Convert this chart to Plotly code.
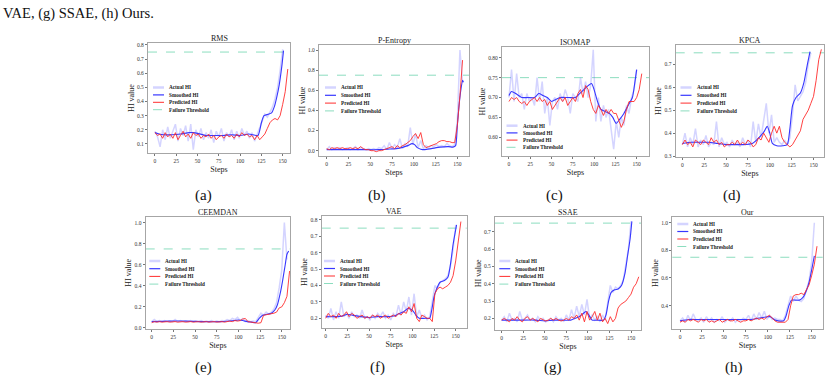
import plotly.graph_objects as go

W, H = 833, 381
STEPS = list(range(0, 160, 3))
XTICKS = [0, 25, 50, 75, 100, 125, 150]
THRESHOLD = 0.75
LEGEND_LABELS = ["Actual HI", "Smoothed HI", "Predicted HI", "Failure Threshold"]
CAPTIONS = ["(a)", "(b)", "(c)", "(d)", "(e)", "(f)", "(g)", "(h)"]
TOP_TEXT = "VAE, (g) SSAE, (h) Ours."

# ---------------- (a) RMS ----------------
rms_actual = [0.19, 0.15, 0.08, 0.20, 0.13, 0.22, 0.14, 0.19, 0.24, 0.12,
              0.21, 0.16, 0.23, 0.12, 0.24, 0.06, 0.20, 0.15, 0.21, 0.13,
              0.18, 0.14, 0.20, 0.11, 0.19, 0.15, 0.21, 0.12, 0.18, 0.15,
              0.20, 0.13, 0.19, 0.14, 0.21, 0.16, 0.19, 0.14, 0.18, 0.12,
              0.17, 0.22, 0.27, 0.31, 0.29, 0.33, 0.36, 0.42, 0.50, 0.62, 0.77]
rms_smooth_x = [0, 5, 10, 20, 30, 40, 45, 50, 60, 70, 80, 90, 100, 110, 115, 121, 125, 128, 133, 137, 140, 143, 146, 149, 151]
rms_smooth = [0.18, 0.17, 0.165, 0.165, 0.17, 0.18, 0.18, 0.175, 0.16, 0.16, 0.16, 0.165, 0.16, 0.17, 0.165, 0.16, 0.25, 0.30, 0.31, 0.32, 0.36, 0.43, 0.52, 0.65, 0.76]
rms_pred = [0.18, 0.16, 0.17, 0.14, 0.18, 0.15, 0.17, 0.14, 0.18, 0.13,
            0.16, 0.19, 0.15, 0.17, 0.14, 0.18, 0.16, 0.17, 0.14, 0.16,
            0.15, 0.17, 0.14, 0.16, 0.13, 0.15, 0.16, 0.14, 0.17, 0.15,
            0.16, 0.14, 0.17, 0.15, 0.18, 0.16, 0.17, 0.15, 0.16, 0.13,
            0.16, 0.13, 0.15, 0.17, 0.21, 0.25, 0.27, 0.28, 0.27, 0.30,
            0.38, 0.47, 0.63]
rms_yticks = [0.1, 0.2, 0.3, 0.4, 0.5, 0.6, 0.7, 0.8]

# ---------------- (b) P-Entropy ----------------
pent_actual = [0.01, 0.04, 0.01, 0.03, 0.02, 0.03, 0.01, 0.02, 0.03, 0.01,
               0.02, 0.04, 0.01, 0.03, 0.02, 0.01, 0.02, 0.01, 0.02, 0.01,
               0.03, 0.02, 0.05, 0.01, 0.08, 0.02, 0.06, 0.03, 0.12, 0.02,
               0.07, 0.04, 0.23, 0.06, 0.17, 0.03, 0.10, 0.02, 0.05, 0.03,
               0.05, 0.04, 0.06, 0.04, 0.05, 0.04, 0.07, 0.05, 0.04, 0.06,
               0.30, 1.00, 0.68]
pent_smooth_x = [0, 20, 40, 60, 70, 80, 88, 93, 98, 101, 104, 108, 112, 120, 130, 140, 145, 148, 150, 152, 154, 156, 157]
pent_smooth = [0.01, 0.01, 0.01, 0.01, 0.015, 0.02, 0.035, 0.05, 0.07, 0.06, 0.03, 0.015, 0.01, 0.02, 0.035, 0.04, 0.035, 0.05, 0.25, 0.45, 0.60, 0.70, 0.68]
pent_pred = [0.02, 0.01, 0.03, 0.02, 0.03, 0.02, 0.03, 0.02, 0.02, 0.03,
             0.02, 0.03, 0.02, 0.04, 0.02, 0.01, 0.01, 0.00, 0.00, -0.01,
             0.00, 0.00, 0.01, 0.02, 0.03, 0.04, 0.02, 0.05, 0.03, 0.05,
             0.06, 0.08, 0.10, 0.14, 0.17, 0.12, 0.18, 0.06, 0.03, 0.04,
             0.05, 0.06, 0.07, 0.09, 0.10, 0.10, 0.09, 0.09, 0.08, 0.08,
             0.25, 0.55, 0.90]
pent_yticks = [0.0, 0.2, 0.4, 0.6, 0.8, 1.0]

# ---------------- (c) ISOMAP ----------------
iso_actual = [0.70, 0.77, 0.69, 0.76, 0.70, 0.71, 0.67, 0.71, 0.69, 0.70,
              0.68, 0.75, 0.69, 0.74, 0.66, 0.70, 0.63, 0.69, 0.70, 0.67,
              0.71, 0.69, 0.72, 0.70, 0.66, 0.71, 0.70, 0.69, 0.75, 0.71,
              0.74, 0.70, 0.73, 0.82, 0.64, 0.70, 0.64, 0.68, 0.65, 0.67,
              0.62, 0.57, 0.64, 0.60, 0.65, 0.63, 0.68, 0.66, 0.70, 0.72, 0.77]
iso_smooth_x = [0, 3, 8, 15, 22, 30, 35, 40, 45, 50, 55, 60, 70, 78, 83, 88, 93, 97, 100, 104, 108, 113, 118, 122, 126, 130, 135, 140, 145, 148, 150]
iso_smooth = [0.705, 0.715, 0.71, 0.70, 0.70, 0.70, 0.71, 0.705, 0.70, 0.69, 0.695, 0.70, 0.70, 0.70, 0.71, 0.72, 0.73, 0.735, 0.72, 0.69, 0.67, 0.665, 0.66, 0.65, 0.635, 0.645, 0.66, 0.68, 0.70, 0.74, 0.77]
iso_pred = [0.69, 0.70, 0.695, 0.70, 0.69, 0.685, 0.69, 0.68, 0.69, 0.695,
            0.70, 0.69, 0.70, 0.69, 0.695, 0.68, 0.69, 0.67, 0.68, 0.69,
            0.70, 0.69, 0.70, 0.68, 0.69, 0.70, 0.69, 0.71, 0.72, 0.70,
            0.73, 0.72, 0.69, 0.67, 0.66, 0.68, 0.67, 0.655, 0.67, 0.66,
            0.67, 0.66, 0.66, 0.64, 0.625, 0.64, 0.67, 0.69, 0.69, 0.69,
            0.70, 0.72, 0.76]
iso_yticks = [0.60, 0.65, 0.70, 0.75, 0.80]

# ---------------- (d) KPCA ----------------
kpca_actual = [0.35, 0.40, 0.34, 0.38, 0.35, 0.42, 0.34, 0.37, 0.35, 0.39,
               0.34, 0.36, 0.35, 0.45, 0.34, 0.38, 0.35, 0.36, 0.34, 0.37,
               0.35, 0.36, 0.34, 0.38, 0.35, 0.37, 0.34, 0.45, 0.36, 0.44,
               0.38, 0.45, 0.53, 0.40, 0.48, 0.36, 0.38, 0.36, 0.35, 0.37,
               0.35, 0.38, 0.48, 0.61, 0.54, 0.56, 0.58, 0.62, 0.70, 0.75]
kpca_smooth_x = [0, 10, 20, 30, 40, 50, 60, 70, 80, 85, 90, 94, 97, 100, 103, 108, 115, 120, 123, 126, 130, 135, 139, 143, 146]
kpca_smooth = [0.355, 0.36, 0.36, 0.36, 0.355, 0.35, 0.35, 0.35, 0.355, 0.37, 0.39, 0.41, 0.43, 0.40, 0.355, 0.345, 0.345, 0.35, 0.42, 0.52, 0.555, 0.575, 0.62, 0.70, 0.755]
kpca_pred = [0.35, 0.37, 0.35, 0.36, 0.34, 0.37, 0.36, 0.35, 0.37, 0.36,
             0.35, 0.38, 0.36, 0.37, 0.35, 0.36, 0.34, 0.35, 0.35, 0.36,
             0.35, 0.37, 0.35, 0.36, 0.35, 0.37, 0.36, 0.34, 0.35, 0.38,
             0.37, 0.40, 0.38, 0.36, 0.40, 0.43, 0.40, 0.43, 0.38, 0.36,
             0.35, 0.34, 0.35, 0.37, 0.39, 0.41, 0.46, 0.48, 0.50, 0.53,
             0.56, 0.63, 0.72, 0.765]
kpca_yticks = [0.3, 0.4, 0.5, 0.6, 0.7]

# ---------------- (e) CEEMDAN ----------------
ceem_actual = [0.06, 0.08, 0.06, 0.07, 0.06, 0.07, 0.06, 0.065, 0.06, 0.08,
               0.06, 0.07, 0.06, 0.065, 0.06, 0.07, 0.06, 0.065, 0.06, 0.07,
               0.06, 0.065, 0.06, 0.07, 0.06, 0.065, 0.06, 0.07, 0.065, 0.08,
               0.07, 0.09, 0.08, 0.10, 0.07, 0.09, 0.06, 0.07, 0.06, 0.065,
               0.06, 0.10, 0.14, 0.12, 0.15, 0.13, 0.15, 0.18, 0.24, 0.38,
               0.55, 1.00, 0.65]
ceem_smooth_x = [0, 20, 40, 60, 80, 95, 100, 105, 110, 115, 120, 124, 128, 133, 138, 142, 145, 148, 151, 154, 156, 158]
ceem_smooth = [0.06, 0.065, 0.065, 0.06, 0.06, 0.07, 0.075, 0.07, 0.06, 0.055, 0.05, 0.09, 0.12, 0.13, 0.14, 0.17, 0.22, 0.32, 0.45, 0.60, 0.70, 0.73]
ceem_pred = [0.05, 0.06, 0.055, 0.06, 0.055, 0.06, 0.06, 0.055, 0.06, 0.06,
             0.055, 0.06, 0.06, 0.055, 0.06, 0.06, 0.055, 0.06, 0.06, 0.055,
             0.06, 0.06, 0.055, 0.06, 0.06, 0.055, 0.06, 0.06, 0.055, 0.06,
             0.065, 0.06, 0.07, 0.065, 0.07, 0.085, 0.09, 0.06, 0.055, 0.05,
             0.05, 0.045, 0.05, 0.12, 0.125, 0.13, 0.13, 0.14, 0.15, 0.19,
             0.20, 0.24, 0.30, 0.54]
ceem_yticks = [0.0, 0.2, 0.4, 0.6, 0.8, 1.0]

# ---------------- (f) VAE ----------------
vae_actual = [0.22, 0.20, 0.26, 0.19, 0.24, 0.20, 0.30, 0.21, 0.23, 0.20,
              0.24, 0.21, 0.22, 0.20, 0.25, 0.20, 0.21, 0.19, 0.22, 0.20,
              0.23, 0.21, 0.24, 0.20, 0.22, 0.19, 0.23, 0.21, 0.28, 0.22,
              0.30, 0.24, 0.33, 0.22, 0.35, 0.21, 0.25, 0.20, 0.22, 0.19,
              0.21, 0.30, 0.40, 0.38, 0.42, 0.43, 0.44, 0.46, 0.52, 0.62, 0.77]
vae_smooth_x = [0, 10, 20, 25, 30, 40, 50, 60, 70, 80, 85, 90, 95, 100, 104, 108, 115, 120, 122, 125, 128, 132, 137, 141, 144, 147, 151]
vae_smooth = [0.21, 0.21, 0.215, 0.225, 0.22, 0.21, 0.205, 0.21, 0.21, 0.215, 0.23, 0.24, 0.26, 0.25, 0.22, 0.20, 0.20, 0.20, 0.24, 0.33, 0.38, 0.42, 0.43, 0.45, 0.53, 0.65, 0.77]
vae_pred = [0.20, 0.23, 0.21, 0.22, 0.20, 0.23, 0.21, 0.22, 0.24, 0.21,
            0.23, 0.22, 0.20, 0.21, 0.22, 0.20, 0.21, 0.20, 0.22, 0.21,
            0.22, 0.20, 0.21, 0.22, 0.20, 0.21, 0.22, 0.21, 0.23, 0.22,
            0.24, 0.23, 0.27, 0.24, 0.29, 0.20, 0.18, 0.22, 0.21, 0.20,
            0.20, 0.18, 0.35, 0.38, 0.39, 0.38, 0.39, 0.40, 0.42, 0.46,
            0.55, 0.66, 0.79]
vae_yticks = [0.2, 0.3, 0.4, 0.5, 0.6, 0.7, 0.8]

# ---------------- (g) SSAE ----------------
ssae_actual = [0.19, 0.21, 0.18, 0.23, 0.19, 0.20, 0.18, 0.24, 0.19, 0.20,
               0.22, 0.19, 0.20, 0.18, 0.21, 0.19, 0.20, 0.18, 0.19, 0.20,
               0.18, 0.21, 0.19, 0.20, 0.18, 0.22, 0.19, 0.25, 0.20, 0.27,
               0.21, 0.28, 0.22, 0.31, 0.20, 0.22, 0.19, 0.21, 0.18, 0.22,
               0.19, 0.30, 0.39, 0.35, 0.38, 0.37, 0.39, 0.42, 0.50, 0.60, 0.76]
ssae_smooth_x = [0, 20, 40, 50, 60, 70, 80, 85, 90, 95, 98, 101, 105, 110, 118, 121, 124, 127, 131, 135, 139, 143, 146, 149, 151]
ssae_smooth = [0.19, 0.19, 0.19, 0.185, 0.19, 0.19, 0.19, 0.20, 0.21, 0.23, 0.24, 0.22, 0.19, 0.19, 0.19, 0.22, 0.30, 0.35, 0.365, 0.37, 0.39, 0.46, 0.56, 0.66, 0.76]
ssae_pred = [0.19, 0.20, 0.19, 0.18, 0.20, 0.19, 0.21, 0.19, 0.18, 0.20,
             0.21, 0.19, 0.20, 0.19, 0.18, 0.20, 0.19, 0.185, 0.19, 0.20,
             0.19, 0.20, 0.19, 0.185, 0.19, 0.20, 0.19, 0.21, 0.20, 0.22,
             0.19, 0.23, 0.18, 0.24, 0.19, 0.21, 0.24, 0.19, 0.23, 0.18,
             0.20, 0.17, 0.21, 0.18, 0.20, 0.26, 0.28, 0.29, 0.30, 0.32,
             0.34, 0.38, 0.40, 0.44]
ssae_yticks = [0.2, 0.3, 0.4, 0.5, 0.6, 0.7]

# ---------------- (h) Ours ----------------
our_actual = [0.29, 0.31, 0.28, 0.33, 0.29, 0.34, 0.30, 0.29, 0.31, 0.28,
              0.32, 0.29, 0.31, 0.28, 0.30, 0.29, 0.32, 0.28, 0.30, 0.29,
              0.31, 0.28, 0.30, 0.29, 0.31, 0.30, 0.33, 0.29, 0.34, 0.30,
              0.35, 0.31, 0.36, 0.30, 0.33, 0.30, 0.31, 0.30, 0.30, 0.29,
              0.33, 0.40, 0.47, 0.43, 0.47, 0.44, 0.43, 0.45, 0.52, 0.58,
              0.72, 1.00]
our_smooth_x = [0, 10, 20, 40, 60, 80, 90, 100, 103, 107, 112, 118, 121, 124, 127, 131, 136, 140, 144, 147, 150, 153]
our_smooth = [0.29, 0.30, 0.30, 0.30, 0.30, 0.30, 0.31, 0.32, 0.32, 0.30, 0.29, 0.29, 0.33, 0.40, 0.44, 0.44, 0.44, 0.46, 0.51, 0.57, 0.66, 0.76]
our_pred = [0.28, 0.29, 0.28, 0.30, 0.29, 0.30, 0.29, 0.28, 0.30, 0.29,
            0.30, 0.28, 0.29, 0.28, 0.29, 0.30, 0.28, 0.29, 0.30, 0.29,
            0.29, 0.30, 0.29, 0.28, 0.29, 0.29, 0.30, 0.29, 0.30, 0.31,
            0.30, 0.31, 0.30, 0.32, 0.33, 0.31, 0.29, 0.28, 0.28, 0.28,
            0.28, 0.30, 0.40, 0.47, 0.48, 0.48, 0.49, 0.48, 0.51, 0.55,
            0.62, 0.70, 0.83]
our_yticks = [0.4, 0.6, 0.8, 1.0]

# ---------------- layout configuration (pixels) ----------------
panels = [
    dict(title="RMS", box=(148, 290, 43, 153), xr=(-8.2, 158.6), yr=(0.036, 0.814), yt=rms_yticks, fmt="{:.1f}",
         a=rms_actual, sx=rms_smooth_x, s=rms_smooth, p=rms_pred, leg=(153, 87.5, 7.4), cap=(203, 195)),
    dict(title="P-Entropy", box=(319, 469, 45, 156), xr=(-8.8, 163.4), yr=(-0.053, 1.05), yt=pent_yticks, fmt="{:.1f}",
         a=pent_actual, sx=pent_smooth_x, s=pent_smooth, p=pent_pred, leg=(325, 87.5, 7.8), cap=(377, 195)),
    dict(title="ISOMAP", box=(502, 649, 47, 156), xr=(-8.2, 164.5), yr=(0.553, 0.827), yt=iso_yticks, fmt="{:.2f}",
         a=iso_actual, sx=iso_smooth_x, s=iso_smooth, p=iso_pred, leg=(506.5, 125.7, 7.2), cap=(554, 195)),
    dict(title="KPCA", box=(675.7, 824, 45, 157), xr=(-7.6, 162), yr=(0.296, 0.784), yt=kpca_yticks, fmt="{:.1f}",
         a=kpca_actual, sx=kpca_smooth_x, s=kpca_smooth, p=kpca_pred, leg=(680.5, 87.5, 7.8), cap=(732, 195)),
    dict(title="CEEMDAN", box=(145.7, 290, 216.7, 329), xr=(-6.9, 159.5), yr=(-0.01, 1.056), yt=ceem_yticks, fmt="{:.1f}",
         a=ceem_actual, sx=ceem_smooth_x, s=ceem_smooth, p=ceem_pred, leg=(149.3, 261, 7.7), cap=(203, 367)),
    dict(title="VAE", box=(321.7, 466.7, 216, 328.3), xr=(-4.6, 162.7), yr=(0.139, 0.824), yt=vae_yticks, fmt="{:.1f}",
         a=vae_actual, sx=vae_smooth_x, s=vae_smooth, p=vae_pred, leg=(324, 261, 7.5), cap=(377, 367)),
    dict(title="SSAE", box=(495, 641, 216.7, 330), xr=(-7.7, 161.6), yr=(0.133, 0.787), yt=ssae_yticks, fmt="{:.1f}",
         a=ssae_actual, sx=ssae_smooth_x, s=ssae_smooth, p=ssae_pred, leg=(499.3, 261, 7.7), cap=(553, 367)),
    dict(title="Our", box=(672.3, 822.7, 217.3, 329), xr=(-8.8, 162.5), yr=(0.231, 1.039), yt=our_yticks, fmt="{:.1f}",
         a=our_actual, sx=our_smooth_x, s=our_smooth, p=our_pred, leg=(677.3, 224, 7.5), cap=(734, 367)),
]

SERIF = "Liberation Serif"
C_ACT = "rgba(90,90,255,0.26)"
C_SM = "rgb(55,55,255)"
C_PR = "rgb(255,45,45)"
C_TH = "rgb(110,212,175)"
FRAME = "#a6a6a6"


def px(x):
    return x / W


def py(y):
    return 1 - y / H


fig = go.Figure()
shapes = []
annotations = []
layout = {}

for i, pn in enumerate(panels):
    k = "" if i == 0 else str(i + 1)
    xa, ya = "x" + k, "y" + k
    l, r, t, b = pn["box"]
    na = len(pn["a"])
    npred = len(pn["p"])
    fig.add_trace(go.Scatter(x=STEPS[:na], y=pn["a"], mode="lines", xaxis=xa, yaxis=ya,
                             line=dict(color=C_ACT, width=1.5), showlegend=False, name="Actual HI"))
    fig.add_trace(go.Scatter(x=pn["sx"], y=pn["s"], mode="lines", xaxis=xa, yaxis=ya,
                             line=dict(color=C_SM, width=1.1, shape="spline", smoothing=0.6),
                             showlegend=False, name="Smoothed HI"))
    fig.add_trace(go.Scatter(x=STEPS[:npred], y=pn["p"], mode="lines", xaxis=xa, yaxis=ya,
                             line=dict(color=C_PR, width=0.9), showlegend=False, name="Predicted HI"))

    layout["xaxis" + k] = dict(
        domain=[px(l), px(r)], range=list(pn["xr"]), anchor=ya,
        tickvals=XTICKS, ticktext=[str(v) for v in XTICKS],
        showline=True, mirror=True, linecolor=FRAME, linewidth=1.3,
        ticks="outside", ticklen=2, tickwidth=0.7, tickcolor="#777",
        showgrid=False, zeroline=False,
        tickfont=dict(family=SERIF, size=5.5, color="#333"),
        title=dict(text="Steps", font=dict(family=SERIF, size=8, color="#222"), standoff=3),
        automargin=False,
    )
    layout["yaxis" + k] = dict(
        domain=[py(b), py(t)], range=list(pn["yr"]), anchor=xa,
        tickvals=pn["yt"], ticktext=[pn["fmt"].format(v) for v in pn["yt"]],
        showline=True, mirror=True, linecolor=FRAME, linewidth=1.3,
        ticks="outside", ticklen=2, tickwidth=0.7, tickcolor="#777",
        showgrid=False, zeroline=False,
        tickfont=dict(family=SERIF, size=5.5, color="#333"),
        title=dict(text="HI value", font=dict(family=SERIF, size=8, color="#222"), standoff=1),
        automargin=False,
    )
    # failure threshold
    shapes.append(dict(type="line", xref=xa + " domain", yref=ya, x0=0, x1=1, y0=THRESHOLD, y1=THRESHOLD,
                       line=dict(color=C_TH, width=0.8, dash="dash"), layer="below"))
    # panel title
    annotations.append(dict(text=pn["title"], xref="paper", yref="paper", x=px((l + r) / 2), y=py(t - 4.5),
                            xanchor="center", yanchor="middle", showarrow=False,
                            font=dict(family=SERIF, size=8, color="#222")))
    # legend (drawn inside panel)
    lx, ly0, dy = pn["leg"]
    styles = [dict(color=C_ACT, width=2.5), dict(color=C_SM, width=1.2),
              dict(color=C_PR, width=1.0), dict(color=C_TH, width=0.8, dash="dash")]
    for j, lab in enumerate(LEGEND_LABELS):
        yy = ly0 + j * dy
        shapes.append(dict(type="line", xref="paper", yref="paper", x0=px(lx), x1=px(lx + 11),
                           y0=py(yy), y1=py(yy), line=styles[j]))
        annotations.append(dict(text="<b>%s</b>" % lab, xref="paper", yref="paper", x=px(lx + 14), y=py(yy),
                                xanchor="left", yanchor="middle", showarrow=False,
                                font=dict(family=SERIF, size=5.2, color="#222")))
    # caption
    cx, cy = pn["cap"]
    annotations.append(dict(text=CAPTIONS[i], xref="paper", yref="paper", x=px(cx), y=py(cy),
                            xanchor="center", yanchor="middle", showarrow=False,
                            font=dict(family=SERIF, size=15, color="#111")))

annotations.append(dict(text=TOP_TEXT, xref="paper", yref="paper", x=px(1), y=py(13),
                        xanchor="left", yanchor="middle", showarrow=False,
                        font=dict(family=SERIF, size=14.5, color="#111")))

fig.update_layout(
    width=W, height=H, autosize=False,
    margin=dict(l=0, r=0, t=0, b=0),
    font=dict(family=SERIF),
    paper_bgcolor="white", plot_bgcolor="white",
    showlegend=False, shapes=shapes, annotations=annotations,
    **layout,
)

fig.write_html("out.html")
